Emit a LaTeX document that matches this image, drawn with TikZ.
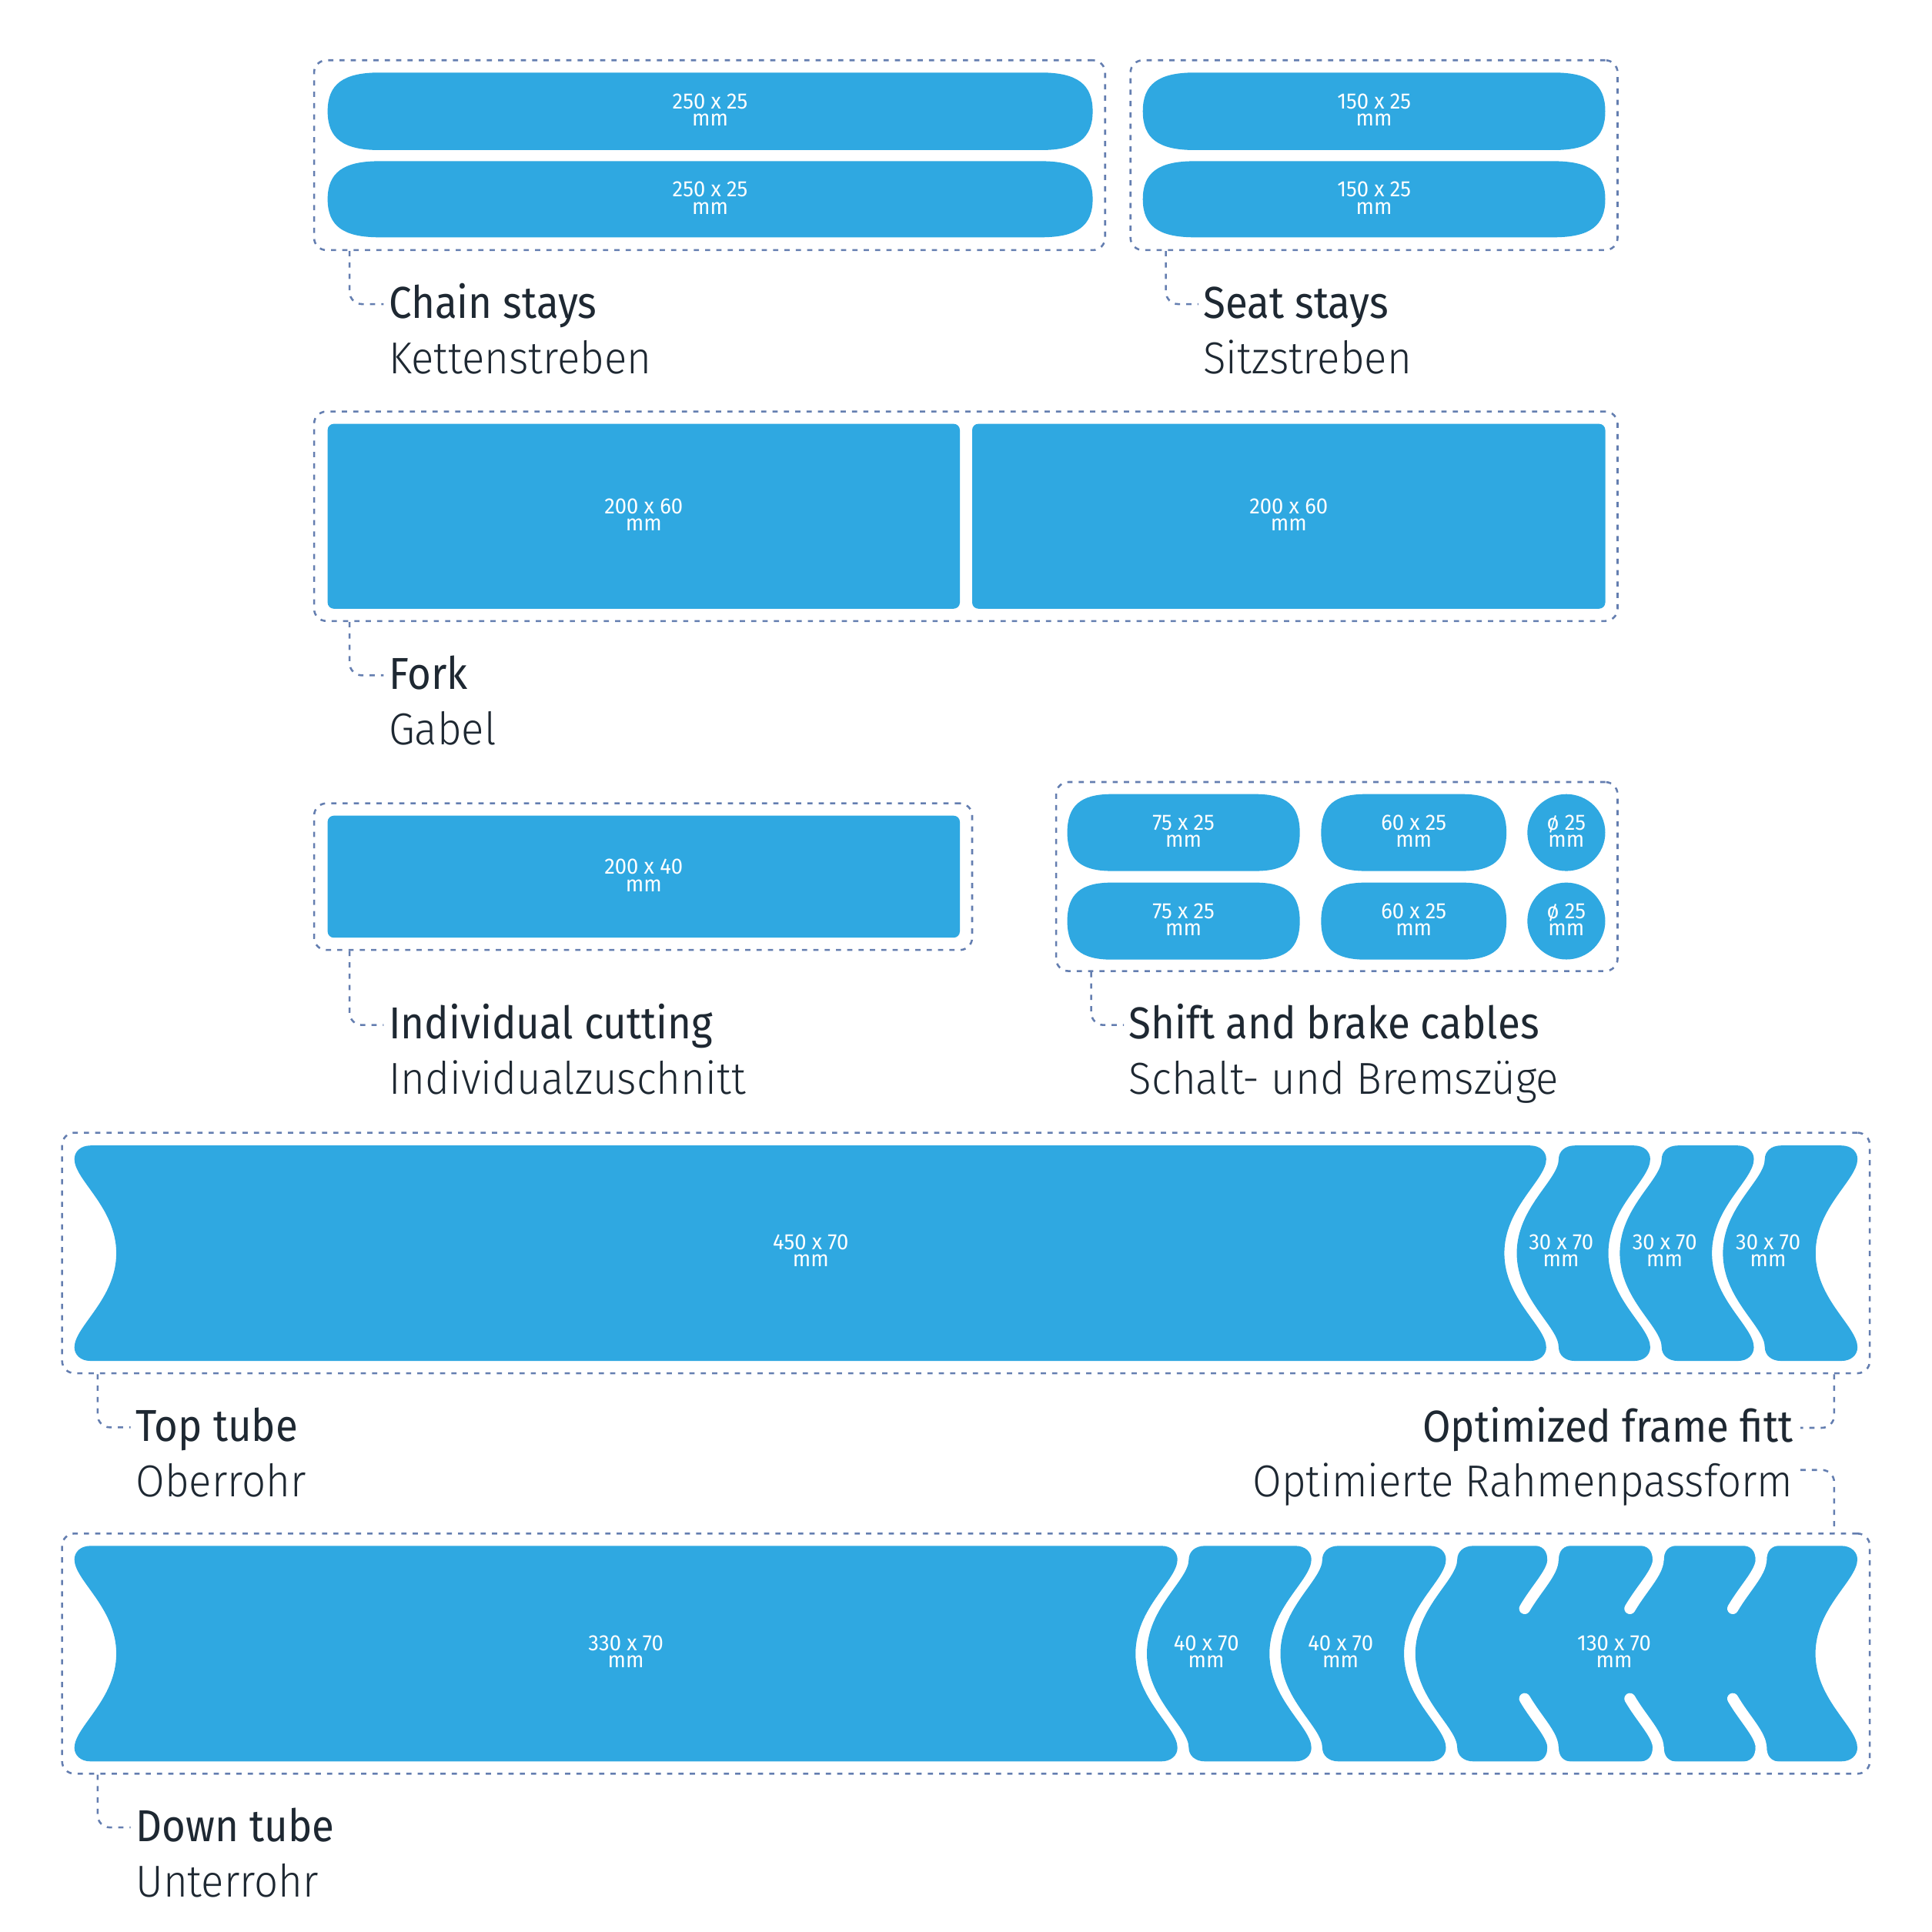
\documentclass[tikz,border=0pt]{standalone}
\usepackage{fontspec}
\usetikzlibrary{calc}
\setmainfont{Fira Sans}
\newfontfamily\headfont{Fira Sans}[FakeStretch=0.91]
\newfontfamily\subfont{Fira Sans Light}[FakeStretch=0.94]
\newfontfamily\tagfont{Fira Sans}[FakeStretch=0.95]
\definecolor{tape}{RGB}{47,168,225}
\definecolor{dashcol}{RGB}{100,126,176}
\definecolor{textcol}{RGB}{30,40,50}
\newcommand{\pill}[5]{%
  \fill[tape] ({#1+#5},#3) -- ({#2-#5},#3)
   .. controls ({#2-0.3*#5},#3) and (#2,{#3+0.3*(#4-#3)/2}) .. (#2,{(#3+#4)/2})
   .. controls (#2,{#4-0.3*(#4-#3)/2}) and ({#2-0.3*#5},#4) .. ({#2-#5},#4)
   -- ({#1+#5},#4)
   .. controls ({#1+0.3*#5},#4) and (#1,{#4-0.3*(#4-#3)/2}) .. (#1,{(#3+#4)/2})
   .. controls (#1,{#3+0.3*(#4-#3)/2}) and ({#1+0.3*#5},#3) .. ({#1+#5},#3) -- cycle;}
\newcommand{\tapepiece}[5]{%
  \fill[tape] ({#1+13},#3) -- ({#2-13},#3)
   .. controls ({#2-5},#3) and (#2,{#3+5}) .. (#2,{#3+11})
   .. controls (#2,{#3+28}) and ({#2-34},{#3+50}) .. ({#2-34},{(#3+#4)/2})
   .. controls ({#2-34},{#4-50}) and (#2,{#4-28}) .. (#2,{#4-11})
   .. controls (#2,{#4-5}) and ({#2-5},#4) .. ({#2-13},#4)
   -- ({#1+13},#4)
   .. controls ({#1+5},#4) and (#1,{#4-5}) .. (#1,{#4-11})
   .. controls (#1,{#4-28}) and ({#1+(#5)*34},{#4-50}) .. ({#1+(#5)*34},{(#3+#4)/2})
   .. controls ({#1+(#5)*34},{#3+50}) and (#1,{#3+28}) .. (#1,{#3+11})
   .. controls (#1,{#3+5}) and ({#1+5},#3) .. ({#1+13},#3) -- cycle;}
\newcommand{\slit}[3]{%
  \fill[white] ({#1-17},{#2-0.5}) -- ({#1+17},{#2-0.5})
   .. controls ({#1+8},{#2-0.5}) and ({#1+4.5},{#2+4}) .. ({#1+4.5},{#2+12})
   -- ({#1-4.5},{#2+12}) .. controls ({#1-4.5},{#2+4}) and ({#1-8},{#2-0.5}) .. ({#1-17},{#2-0.5}) -- cycle;
  \fill[white] ({#1-17},{#3+0.5}) -- ({#1+17},{#3+0.5})
   .. controls ({#1+8},{#3+0.5}) and ({#1+4.5},{#3-4}) .. ({#1+4.5},{#3-12})
   -- ({#1-4.5},{#3-12}) .. controls ({#1-4.5},{#3-4}) and ({#1-8},{#3+0.5}) .. ({#1-17},{#3+0.5}) -- cycle;
  \draw[white,line width=9pt,line cap=round] (#1,{#2+2}) -- (#1,{#2+11})
   .. controls (#1,{#2+21.5}) and ({#1-13.1},{#2+34}) .. ({#1-23},{#2+50.9});
  \draw[white,line width=9pt,line cap=round] (#1,{#3-2}) -- (#1,{#3-11})
   .. controls (#1,{#3-21.5}) and ({#1-13.1},{#3-34}) .. ({#1-23},{#3-50.9});}
\tikzset{
  dbox/.style={draw=dashcol,line width=1.6pt,dash pattern=on 4.2pt off 5pt,rounded corners=10pt,inner sep=0pt,shape=rectangle},
  conn/.style={draw=dashcol,line width=1.6pt,dash pattern=on 4.2pt off 5pt,rounded corners=10pt},
  tag/.style={align=center,inner sep=0pt,text=white,font={\tagfont\fontsize{18}{14.2}\selectfont}},
  lblA/.style={anchor=base west,inner sep=0pt,text=textcol,font={\headfont\fontsize{36.3}{40}\selectfont}},
  lblB/.style={anchor=base west,inner sep=0pt,text=textcol,font={\subfont\fontsize{36.3}{40}\selectfont}}
}
\begin{document}
\begin{tikzpicture}[x=1pt,y=-1pt]
\fill[white] (0,0) rectangle (1568,1568);
\useasboundingbox (0,0) rectangle (1568,1568);
% dashed group boxes
\node[dbox,minimum width=642pt,minimum height=154.1pt] (chainbox) at (575.9,125.95) {};
\node[dbox,minimum width=395.3pt,minimum height=154.1pt] (seatbox) at (1115.15,125.95) {};
\node[dbox,minimum width=1057.9pt,minimum height=170pt] (forkbox) at (783.85,419) {};
\node[dbox,minimum width=534.1pt,minimum height=119pt] (indbox) at (521.95,711.5) {};
\node[dbox,minimum width=455.7pt,minimum height=153.4pt] (cablebox) at (1084.95,711.4) {};
\node[dbox,minimum width=1467.1pt,minimum height=195.2pt] (topbox) at (783.95,1016.9) {};
\node[dbox,minimum width=1467.1pt,minimum height=194.9pt] (downbox) at (783.95,1342.05) {};
% chain stays
\pill{265.9}{886.8}{58.9}{121.8}{42}
\pill{265.9}{886.8}{130.8}{192.6}{42}
\node[tag] (cs1) at (576.3,89.2) {250 x 25\\mm};
\node[tag] (cs2) at (576.3,160.5) {250 x 25\\mm};
% seat stays
\pill{927.5}{1302.8}{58.9}{121.8}{42}
\pill{927.5}{1302.8}{130.8}{192.6}{42}
\node[tag] (ss1) at (1115.2,89.2) {150 x 25\\mm};
\node[tag] (ss2) at (1115.2,160.5) {150 x 25\\mm};
% fork
\fill[tape,rounded corners=5pt] (265.9,344) rectangle (779,494);
\fill[tape,rounded corners=5pt] (789,344) rectangle (1302.8,494);
\node[tag] (fk1) at (522.4,417.8) {200 x 60\\mm};
\node[tag] (fk2) at (1045.9,417.8) {200 x 60\\mm};
% individual
\fill[tape,rounded corners=5pt] (265.9,662) rectangle (779,761);
\node[tag] (in1) at (522.4,710.3) {200 x 40\\mm};
% cables
\pill{866.2}{1054.9}{644.5}{706.9}{36}
\pill{866.2}{1054.9}{716.3}{778.8}{36}
\pill{1072.2}{1222.6}{644.5}{706.9}{36}
\pill{1072.2}{1222.6}{716.3}{778.8}{36}
\fill[tape] (1271.2,675.7) ellipse [x radius=31.6,y radius=31.2];
\fill[tape] (1271.2,747.5) ellipse [x radius=31.6,y radius=31.2];
\node[tag] (cb1) at (960.5,674.5) {75 x 25\\mm};
\node[tag] (cb2) at (960.5,746.3) {75 x 25\\mm};
\node[tag] (cb3) at (1147.4,674.5) {60 x 25\\mm};
\node[tag] (cb4) at (1147.4,746.3) {60 x 25\\mm};
\node[tag] (cb5) at (1271.2,674.5) {ø 25\\mm};
\node[tag] (cb6) at (1271.2,746.3) {ø 25\\mm};
% top tube
\tapepiece{60.4}{1254.9}{929.7}{1104.5}{1}
\tapepiece{1265}{1339.3}{929.7}{1104.5}{-1}
\tapepiece{1348.6}{1423.4}{929.7}{1104.5}{-1}
\tapepiece{1432.3}{1507.5}{929.7}{1104.5}{-1}
\node[tag] (tt1) at (658,1014.9) {450 x 70\\mm};
\node[tag] (tt2) at (1267,1014.9) {30 x 70\\mm};
\node[tag] (tt3) at (1351,1014.9) {30 x 70\\mm};
\node[tag] (tt4) at (1435,1014.9) {30 x 70\\mm};
% down tube
\tapepiece{60.4}{955.6}{1254.6}{1429.5}{1}
\tapepiece{964.8}{1064.3}{1254.6}{1429.5}{-1}
\tapepiece{1073.2}{1173.5}{1254.6}{1429.5}{-1}
\tapepiece{1182.7}{1507.4}{1254.6}{1429.5}{-1}
\slit{1260.4}{1254.6}{1429.5}
\slit{1345.8}{1254.6}{1429.5}
\slit{1429.3}{1254.6}{1429.5}
\node[tag] (dt1) at (508,1340.4) {330 x 70\\mm};
\node[tag] (dt2) at (979,1340.4) {40 x 70\\mm};
\node[tag] (dt3) at (1088,1340.4) {40 x 70\\mm};
\node[tag] (dt4) at (1310,1340.4) {130 x 70\\mm};
% labels
\node[lblA] (chainA) at (315.3,258.2) {Chain stays};
\node[lblB] (chainB) at (315.3,303.0) {Kettenstreben};
\node[lblA] (seatA) at (976.5,258.2) {Seat stays};
\node[lblB] (seatB) at (976.5,303.0) {Sitzstreben};
\node[lblA] (forkA) at (315.3,559.5) {Fork};
\node[lblB] (forkB) at (315.3,604.3) {Gabel};
\node[lblA] (indA) at (315.3,843.3) {Individual cutting};
\node[lblB] (indB) at (315.3,888.1) {Individualzuschnitt};
\node[lblA] (cabA) at (916.2,843.3) {Shift and brake cables};
\node[lblB] (cabB) at (916.2,888.1) {Schalt- und Bremszüge};
\node[lblA] (topA) at (110,1169.8) {Top tube};
\node[lblB] (topB) at (110,1214.6) {Oberrohr};
\node[lblA,anchor=base east] (optA) at (1455.3,1170.2) {Optimized frame fitt};
\node[lblB,anchor=base east] (optB) at (1455.3,1215) {Optimierte Rahmenpassform};
\node[lblA] (downA) at (110,1494.5) {Down tube};
\node[lblB] (downB) at (110,1539.3) {Unterrohr};
% connectors
\draw[conn] ($(chainbox.south west)+(29.6,0)$) |- ($(chainA.base west)+(-4,-11.4)$);
\draw[conn] ($(seatbox.south west)+(29.5,0)$) |- ($(seatA.base west)+(-4,-11.4)$);
\draw[conn] ($(forkbox.south west)+(29.6,0)$) |- ($(forkA.base west)+(-4,-11.4)$);
\draw[conn] ($(indbox.south west)+(29.6,0)$) |- ($(indA.base west)+(-4,-11.4)$);
\draw[conn] ($(cablebox.south west)+(29.3,0)$) |- ($(cabA.base west)+(-4,-11.4)$);
\draw[conn] ($(topbox.south west)+(29.6,0)$) |- ($(topA.base west)+(-4,-11.4)$);
\draw[conn] ($(downbox.south west)+(29.6,0)$) |- ($(downA.base west)+(-4,-11.4)$);
\draw[conn] ($(topbox.south east)+(-29.7,0)$) |- ($(optA.base east)+(6,-11.4)$);
\draw[conn] ($(optB.base east)+(6,-22)$) -| ($(downbox.north east)+(-29.7,0)$);
\end{tikzpicture}
\end{document}
